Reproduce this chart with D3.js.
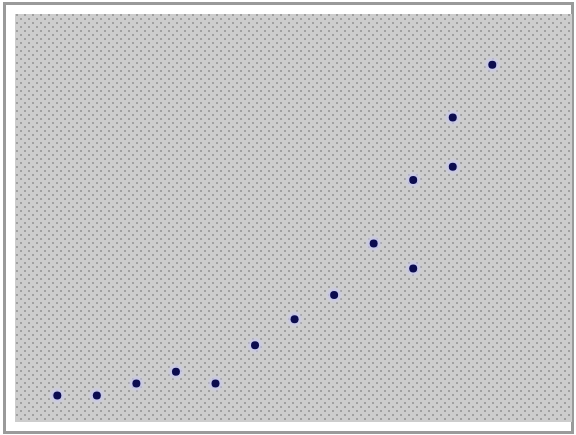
<!DOCTYPE html>
<html>
<head>
<meta charset="utf-8">
<script src="https://cdn.jsdelivr.net/npm/d3@7"></script>
<style>
  body { margin: 0; background: #fff; }
</style>
</head>
<body>
<div id="chart"></div>
<script>
var xValues = [1, 2, 3, 4, 5, 6, 7, 8, 9, 10, 10, 11, 11, 12];
var yValues = [3.7, 3.7, 6.8, 9.8, 6.8, 16.6, 23.3, 29.5, 42.7, 36.3, 59, 62.4, 75, 88.5];

var width = 576, height = 435;
var svg = d3.select("#chart").append("svg").attr("width", width).attr("height", height);

var defs = svg.append("defs");
var pat = defs.append("pattern").attr("id", "dots").attr("patternUnits", "userSpaceOnUse")
    .attr("width", 8).attr("height", 8).attr("x", 15).attr("y", 14);
pat.append("rect").attr("width", 8).attr("height", 8).attr("fill", "#cdcdcd");
pat.append("rect").attr("x", 1).attr("y", 0).attr("width", 2).attr("height", 2).attr("fill", "#a0a0a0");
pat.append("rect").attr("x", 5).attr("y", 4).attr("width", 2).attr("height", 2).attr("fill", "#a0a0a0");

var halo = defs.append("radialGradient").attr("id", "halo");
halo.append("stop").attr("offset", "40%").attr("stop-color", "#c4c4ec").attr("stop-opacity", 1);
halo.append("stop").attr("offset", "100%").attr("stop-color", "#d0d0ee").attr("stop-opacity", 0);

// outer frame
svg.append("rect").attr("x", 4.5).attr("y", 3.5).attr("width", 568).attr("height", 429)
    .attr("fill", "none").attr("stroke", "#9a9a9a").attr("stroke-width", 3);

// plot area
svg.append("rect").attr("x", 15).attr("y", 14).attr("width", 557).attr("height", 408)
    .attr("fill", "url(#dots)");

var x = d3.scaleLinear().domain([1, 12]).range([57.3, 492.3]);
var y = d3.scaleLinear().domain([0, 100]).range([410, 20]);

var data = xValues.map((d, i) => ({x: d, y: yValues[i]}));

svg.selectAll(".halo").data(data).enter().append("circle").attr("class", "halo")
    .attr("cx", d => x(d.x)).attr("cy", d => y(d.y)).attr("r", 9).attr("fill", "url(#halo)");

svg.selectAll(".dot").data(data).enter().append("circle").attr("class", "dot")
    .attr("cx", d => x(d.x)).attr("cy", d => y(d.y)).attr("r", 4).attr("fill", "#0c0c4e");
</script>
</body>
</html>
